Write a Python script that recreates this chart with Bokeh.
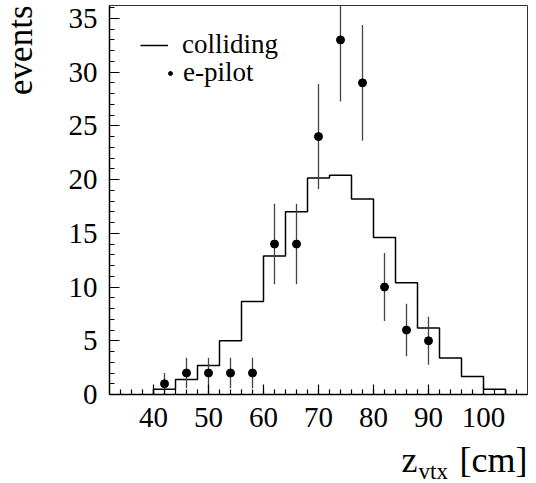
import math
from bokeh.plotting import figure
from bokeh.layouts import row, column
from bokeh.models import Range1d, Legend, LegendItem, FixedTicker
from bokeh.core.properties import value
from bokeh.embed import file_html
from bokeh.resources import INLINE

# histogram bin edges (cm) and "colliding" histogram contents
edges = [40, 44, 48, 52, 56, 60, 64, 68, 72, 76, 80, 84, 88, 92, 96, 100, 104]
colliding = [0.5, 1.4, 2.7, 5.0, 8.65, 12.9, 17.0, 20.15, 20.4, 18.2, 14.6, 10.4, 6.2, 3.4, 1.68, 0.5]

# e-pilot data points with errors
pilot_x = [42, 46, 50, 54, 58, 62, 66, 70, 74, 78, 82, 86, 90]
pilot_y = [1, 2, 2, 2, 2, 14, 14, 24, 33, 29, 10, 6, 5]
pilot_err = [1.0, 1.41, 1.41, 1.41, 1.41, 3.74, 3.74, 4.9, 5.74, 5.39, 3.16, 2.45, 2.24]

x_ticks = [40, 50, 60, 70, 80, 90, 100]
x_minor = list(range(34, 108, 2))
y_ticks = [0, 5, 10, 15, 20, 25, 30, 35]
y_minor = list(range(0, 37, 1))

FONT = "Liberation Serif"
X0, X1, Y0, Y1 = 32, 108, 0, 36.2

p = figure(width=486, height=440, x_range=Range1d(X0, X1), y_range=Range1d(Y0, Y1),
           output_backend="svg", toolbar_location=None,
           min_border_left=59, min_border_right=9, min_border_top=5, min_border_bottom=46)
p.grid.visible = False
p.outline_line_color = "#333333"
p.outline_line_width = 1
p.background_fill_color = "white"
p.border_fill_color = "white"

for ax, ticks, minor in ((p.xaxis[0], x_ticks, x_minor), (p.yaxis[0], y_ticks, y_minor)):
    ax.ticker = FixedTicker(ticks=ticks, minor_ticks=minor)
    ax.major_tick_in = 10
    ax.major_tick_out = 0
    ax.minor_tick_in = 5
    ax.minor_tick_out = 0
    ax.axis_line_width = 1.5
    ax.major_tick_line_width = 1.2
    ax.minor_tick_line_width = 1.2
    ax.axis_line_color = "black"
    ax.major_label_text_font = FONT
    ax.major_label_text_font_size = "29px"
    ax.major_label_text_color = "black"
p.xaxis.major_label_standoff = 13
p.yaxis.major_label_standoff = 12

# histogram as a step line
hx = [edges[0]] + edges
hy = [0] + colliding + [0]
step_r = p.step(hx, hy, mode="after", line_color="black", line_width=1.5)

# error bars and points
p.segment(x0=pilot_x, y0=[y - e for y, e in zip(pilot_y, pilot_err)],
          x1=pilot_x, y1=[y + e for y, e in zip(pilot_y, pilot_err)],
          line_color="#444444", line_width=1.3)
pts_r = p.scatter(pilot_x, pilot_y, marker="circle", size=8, fill_color="black", line_color="black")

def leg(item, loc, gw, standoff):
    lg = Legend(items=[item], location=loc, border_line_color=None, background_fill_alpha=0,
                padding=0, margin=0, spacing=0, glyph_width=gw, glyph_height=30, label_height=30,
                label_standoff=standoff, label_text_font=FONT, label_text_font_size="27px",
                label_text_color="black")
    p.add_layout(lg)

leg(LegendItem(label="colliding", renderers=[step_r]), (31, 334), 28, 14)
leg(LegendItem(label="e-pilot", renderers=[pts_r]), (56, 306), 10, 8)

def strip(w, h, xr, yr):
    f = figure(width=w, height=h, x_range=xr, y_range=yr,
               output_backend="svg", toolbar_location=None,
               x_axis_location=None, y_axis_location=None, min_border=0)
    f.grid.visible = False
    f.outline_line_color = None
    f.background_fill_color = "white"
    f.border_fill_color = "white"
    return f

# y-axis title strip (left)
left = strip(50, 483, Range1d(0, 50), Range1d(0, 483))
left.text(x=[20], y=[478], text=["events"], angle=math.pi / 2, text_align="right",
          text_baseline="alphabetic", text_font=value(FONT), text_font_size="35px",
          text_color="black")

# x-axis title strip (bottom), sharing the x scale of the main plot
bottom = strip(486, 43, p.x_range, Range1d(0, 43))
bottom.text(x=[85.1], y=[23.4], text=["z"], text_align="left", text_baseline="alphabetic",
            text_font=value(FONT), text_font_size="36px", text_color="black")
bottom.text(x=[88.2], y=[12.5], text=["vtx"], text_align="left", text_baseline="alphabetic",
            text_font=value(FONT), text_font_size="23px", text_color="black")
bottom.text(x=[X1], y=[23.4], text=["[cm]"], text_align="right", text_baseline="alphabetic",
            text_font=value(FONT), text_font_size="36px", text_color="black")

layout = row(left, column(p, bottom, spacing=0), spacing=0)
open("out.html", "w").write(file_html(layout, INLINE))
